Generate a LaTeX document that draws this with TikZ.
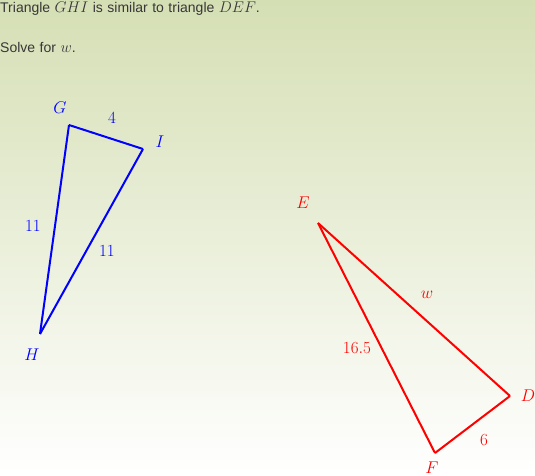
\documentclass[tikz,border=0pt]{standalone}
\usepackage{fix-cm}
\usepackage{fontspec}
\setsansfont{Liberation Sans}[WordSpace=1.15]
\usepackage{tikz}
\usetikzlibrary{arrows.meta}
\definecolor{bgtop}{RGB}{213,223,180}
\definecolor{bgmid}{RGB}{236,239,219}
\definecolor{textgray}{RGB}{55,55,55}

\begin{document}
\begin{tikzpicture}[x=1pt,y=-1pt]
\tikzset{lbl/.style={inner sep=0pt,font=\fontsize{17}{20}\selectfont},
         side/.style={line width=2pt,line join=miter}}
%\tikzstyle{place}=[circle,draw=blue!50,fill=blue!20,thick]
\shade[top color=bgtop,middle color=bgmid,bottom color=white] (0,0) rectangle (535,476);
\useasboundingbox (0,0) rectangle (535,476);

\begin{scope}[every node/.style={anchor=base west,inner sep=0pt,text=textgray,font=\sffamily\fontsize{14}{16}\selectfont}]
    \node (t1) at (0,13) {Triangle {\fontsize{15.5}{18}\selectfont$GHI$} is similar to triangle {\fontsize{15.5}{18}\selectfont$DEF$}.};
    \node (t2) at (0,53) {Solve for {\fontsize{15.5}{18}\selectfont$w$}.};
\end{scope}

\begin{scope}
    \coordinate (g) at (69,125);
    \coordinate (i) at (143,149);
    \coordinate (h) at (40,334);
    \coordinate (e) at (318,223);
    \coordinate (d) at (510,396);
    \coordinate (f) at (435,453);
\end{scope}

\begin{scope}[every node/.style={lbl,text=blue}]
    \node (lg) at (60,108) {$G$};
    \node (li) at (160,142) {$I$};
    \node (lh) at (32,355) {$H$};
    \node (gi) at (112,118) {$4$};
    \node (gh) at (33,226) {$11$};
    \node (hi) at (107,251) {$11$};
\end{scope}

\begin{scope}[every node/.style={lbl,text=red}]
    \node (le) at (303,203) {$E$};
    \node (ld) at (528,396) {$D$};
    \node (lf) at (432,468) {$F$};
    \node (ed) at (427,295) {$w$};
    \node (ef) at (357,348) {$16.5$};
    \node (df) at (484,440) {$6$};
\end{scope}

\begin{scope}[every edge/.style={draw,side}]
    \path [blue] (g) edge (i);
    \path [blue] (i) edge (h);
    \path [blue] (h) edge (g);

    \path [red] (e) edge (d);
    \path [red] (d) edge (f);
    \path [red] (f) edge (e);
\end{scope}
\end{tikzpicture}
\end{document}
